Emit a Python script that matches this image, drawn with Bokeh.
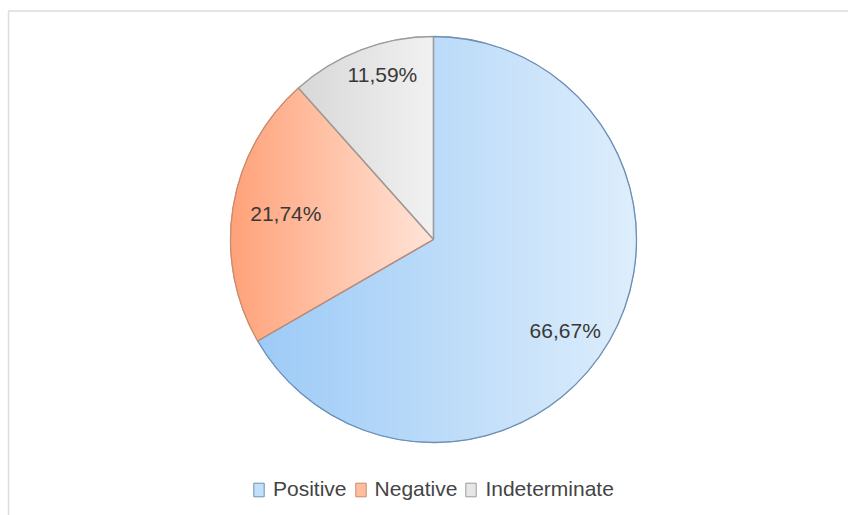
import numpy as np
from bokeh.plotting import figure
from bokeh.models import Range1d, Legend, LegendItem, ColumnDataSource
from bokeh.core.properties import value
from bokeh.embed import file_html
from bokeh.resources import INLINE

# --- data -------------------------------------------------------------
categories = ["Positive", "Negative", "Indeterminate"]
shares = [66.67, 21.74, 11.59]

# --- styling ------------------------------------------------------------
fill_left = [(157, 203, 247), (255, 162, 121), (216, 216, 216)]
fill_right = [(222, 238, 252), (255, 229, 217), (242, 242, 242)]
fill_flat = ["#c3e0fa", "#ffbf9f", "#e6e6e6"]
border = ["#6e8fb4", "#c88b6f", "#9c9c9c"]
label_dist = [160, 150, 173]        # px from centre
label_nudge = [-4.6, -1.0, -3.7]    # degrees
FONT = "Liberation Sans"

W, H = 848, 515
cx, cy, r = 433.0, H - 239.0, 203.0

# slice angles: start at 12 o'clock, run clockwise
total = float(sum(shares))
cum = np.cumsum([0.0] + [s / total for s in shares])
start_deg = [90 - 360 * cum[i + 1] for i in range(len(shares))]
end_deg = [90 - 360 * cum[i] for i in range(len(shares))]

src = ColumnDataSource(dict(
    x=[cx] * 3, y=[cy] * 3,
    start=np.radians(start_deg), end=np.radians(end_deg),
    fill=fill_flat, line=border, cat=categories,
))

p = figure(width=W, height=H, x_range=Range1d(0, W), y_range=Range1d(0, H),
           output_backend="svg", toolbar_location=None, min_border=0)
p.axis.visible = False
p.grid.visible = False
p.outline_line_color = None
p.background_fill_color = "white"

# outer frame
p.quad(left=[8], right=[W + 10], bottom=[-10], top=[H - 10.5],
       fill_alpha=0, line_color="#dcdcdc", line_width=1.5)

# base wedges (also provide the legend swatches)
base = p.wedge(x="x", y="y", radius=r, start_angle="start", end_angle="end",
               direction="anticlock", fill_color="fill", line_color="line",
               line_width=1, source=src)

# horizontal gradient fill for each slice, rendered as an RGBA raster
pad = 2
n = int(2 * (r + pad))
x0, y0 = cx - r - pad, cy - r - pad
xs = x0 + np.arange(n) + 0.5
ys = y0 + np.arange(n) + 0.5
XX, YY = np.meshgrid(xs, ys)
DX, DY = XX - cx, YY - cy
dist = np.hypot(DX, DY)
ang = np.degrees(np.arctan2(DY, DX))
rgba = np.zeros((n, n, 4), dtype=np.uint8)
alpha = np.clip(r - dist + 0.5, 0, 1)
for i in range(len(shares)):
    a0, a1 = start_deg[i], end_deg[i]
    rel = (ang - a0) % 360
    inside = rel <= (a1 - a0)
    # x extent of this slice
    t = np.radians(np.linspace(a0, a1, 400))
    px = np.concatenate([[0.0], r * np.cos(t)])
    xmin, xmax = px.min(), px.max()
    g = np.clip((DX - xmin) / (xmax - xmin), 0, 1)
    for c in range(3):
        ch = fill_left[i][c] + (fill_right[i][c] - fill_left[i][c]) * g
        rgba[..., c] = np.where(inside, ch.astype(np.uint8), rgba[..., c])
    rgba[..., 3] = np.where(inside, (alpha * 255).astype(np.uint8), rgba[..., 3])
img = rgba.view(dtype=np.uint32).reshape((n, n))
p.image_rgba(image=[img], x=x0, y=y0, dw=n, dh=n)

# slice outlines on top of the raster
p.wedge(x="x", y="y", radius=r, start_angle="start", end_angle="end",
        direction="anticlock", fill_alpha=0, line_color="line",
        line_width=1.3, source=src)

# percentage labels
lx, ly, ltxt = [], [], []
for i, s in enumerate(shares):
    mid = np.radians((start_deg[i] + end_deg[i]) / 2 + label_nudge[i])
    lx.append(cx + label_dist[i] * np.cos(mid))
    ly.append(cy + label_dist[i] * np.sin(mid))
    ltxt.append(f"{s:.2f}".replace(".", ",") + "%")
p.text(x=lx, y=ly, text=ltxt, text_align="center", text_baseline="middle",
       text_font=value(FONT), text_font_size="21px", text_color="#383838")

legend = Legend(
    items=[LegendItem(label=c, renderers=[base], index=i) for i, c in enumerate(categories)],
    orientation="horizontal", location=(252, 14),
    glyph_width=13, glyph_height=17, label_standoff=8, spacing=7,
    padding=0, margin=0, border_line_color=None, background_fill_alpha=0,
    label_text_font=FONT, label_text_font_size="21px", label_text_color="#444444",
)
p.add_layout(legend)

open("out.html", "w").write(file_html(p, INLINE))
